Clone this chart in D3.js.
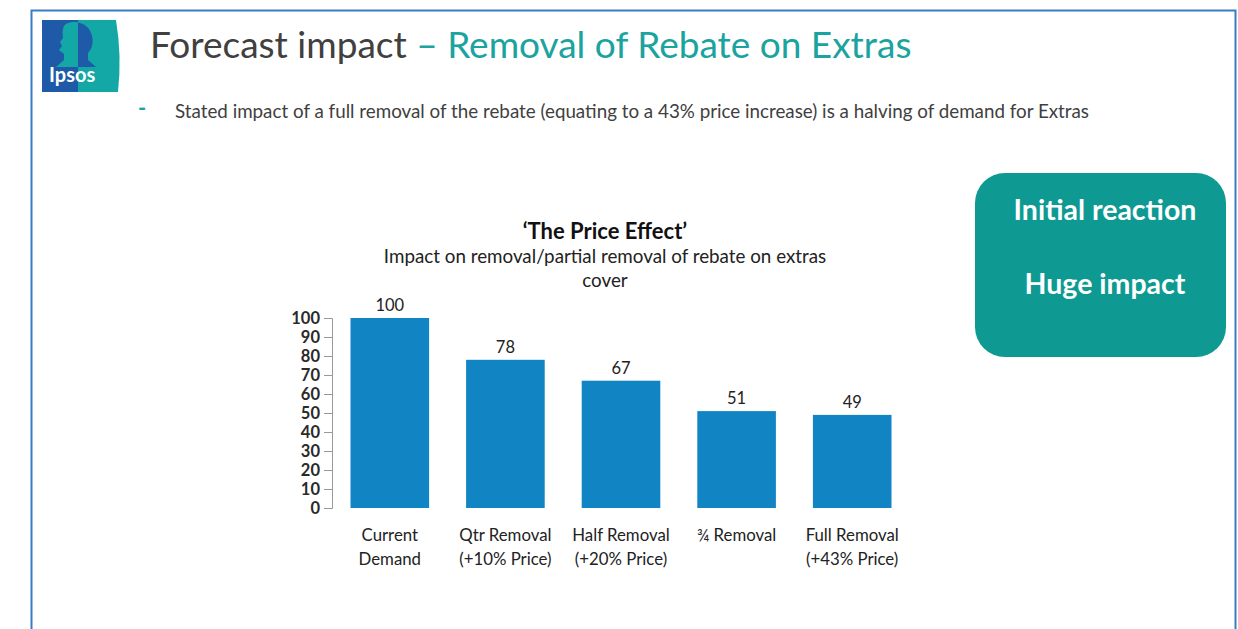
<!DOCTYPE html>
<html>
<head>
<meta charset="utf-8">
<script src="https://cdn.jsdelivr.net/npm/d3@7"></script>
<style>
  body { margin: 0; background: #fff; }
  svg { display: block; font-family: Lato, 'Open Sans', sans-serif; }
</style>
</head>
<body>
<div id="chart"></div>
<script>
const categories = [
  ['Current', 'Demand'],
  ['Qtr Removal', '(+10% Price)'],
  ['Half Removal', '(+20% Price)'],
  ['\u00BE Removal'],
  ['Full Removal', '(+43% Price)']
];
const values = [100, 78, 67, 51, 49];
const yTicks = [0, 10, 20, 30, 40, 50, 60, 70, 80, 90, 100];

const W = 1238, H = 629;
const teal = '#1aa39f';
const barColor = '#1185c4';

const svg = d3.select('#chart')
  .append('svg')
  .attr('width', W)
  .attr('height', H);

// slide frame
svg.append('path')
  .attr('d', 'M31.5,' + H + ' V10.5 H1235.5 V' + H)
  .attr('fill', 'none')
  .attr('stroke', '#3a7cc4')
  .attr('stroke-width', 2);

// logo
const logo = svg.append('g').attr('transform', 'translate(42,20)');
const defs = svg.append('defs');
defs.append('clipPath').attr('id', 'logo-left')
  .append('rect').attr('x', 0).attr('y', 0).attr('width', 36).attr('height', 72);
defs.append('clipPath').attr('id', 'logo-right')
  .append('rect').attr('x', 36).attr('y', 0).attr('width', 50).attr('height', 72);

logo.append('path')
  .attr('d', 'M0,0 H74 Q80,36 76,72 H0 Z')
  .attr('fill', '#13a8a6');
logo.append('rect').attr('width', 36).attr('height', 72).attr('fill', '#1e5aa8');
const headPath = 'M24,4 C34,-1 48,4 50,16 C52,24 49,30 46,33 L46,40 L54,47 L14,47 L22,40 L22,34 L17,30 L20,26 L18,22 L21,18 C20,10 21,6 24,4 Z';
logo.append('path').attr('d', headPath).attr('fill', '#13a8a6').attr('clip-path', 'url(#logo-left)');
logo.append('path').attr('d', headPath).attr('fill', '#1e5aa8').attr('clip-path', 'url(#logo-right)');
logo.append('text')
  .attr('x', 7).attr('y', 62)
  .attr('fill', '#fff')
  .attr('font-size', 20)
  .attr('font-weight', 'bold')
  .text('Ipsos');

// slide title
const title = svg.append('text')
  .attr('x', 150).attr('y', 58)
  .attr('font-size', 37);
title.append('tspan').attr('fill', '#404040').text('Forecast impact ');
title.append('tspan').attr('fill', teal).text('\u2013 Removal of Rebate on Extras');

svg.append('text')
  .attr('x', 138).attr('y', 116)
  .attr('fill', teal)
  .attr('font-size', 22)
  .attr('font-weight', 'bold')
  .text('-');

svg.append('text')
  .attr('x', 175).attr('y', 118)
  .attr('fill', '#404040')
  .attr('font-size', 18.8)
  .text('Stated impact of a full removal of the rebate (equating to a 43% price increase) is a halving of demand for Extras');

// callout box
svg.append('rect')
  .attr('x', 975).attr('y', 173)
  .attr('width', 251).attr('height', 184)
  .attr('rx', 30)
  .attr('fill', '#0e9a93');
svg.append('text')
  .attr('x', 1105).attr('y', 220)
  .attr('text-anchor', 'middle')
  .attr('fill', '#fff')
  .attr('font-size', 28.5)
  .attr('font-weight', 'bold')
  .text('Initial reaction');
svg.append('text')
  .attr('x', 1105).attr('y', 294)
  .attr('text-anchor', 'middle')
  .attr('fill', '#fff')
  .attr('font-size', 28.5)
  .attr('font-weight', 'bold')
  .text('Huge impact');

// chart titles
svg.append('text')
  .attr('x', 605).attr('y', 239)
  .attr('text-anchor', 'middle')
  .attr('fill', '#111')
  .attr('font-size', 22)
  .attr('font-weight', 'bold')
  .text('\u2018The Price Effect\u2019');
svg.append('text')
  .attr('x', 605).attr('y', 263)
  .attr('text-anchor', 'middle')
  .attr('fill', '#222')
  .attr('font-size', 18.8)
  .text('Impact on removal/partial removal of rebate on extras');
svg.append('text')
  .attr('x', 605).attr('y', 287)
  .attr('text-anchor', 'middle')
  .attr('fill', '#222')
  .attr('font-size', 18.8)
  .text('cover');

// chart
const x = d3.scaleBand()
  .domain(d3.range(values.length))
  .range([332, 910])
  .paddingInner(0.32)
  .paddingOuter(0.16);
const y = d3.scaleLinear().domain([0, 100]).range([508, 318]);

const yAxis = svg.append('g')
  .attr('transform', 'translate(332,0)')
  .call(d3.axisLeft(y).tickValues(yTicks).tickSize(8).tickPadding(4));
yAxis.selectAll('path, line').attr('stroke', '#999');
yAxis.selectAll('text')
  .attr('font-size', 16.5)
  .attr('font-weight', 'bold')
  .attr('font-family', 'Lato, sans-serif')
  .attr('fill', '#2a2a2a');

svg.selectAll('rect.bar')
  .data(values)
  .enter()
  .append('rect')
  .classed('bar', true)
  .attr('x', (d, i) => x(i))
  .attr('width', x.bandwidth())
  .attr('y', d => y(d))
  .attr('height', d => y(0) - y(d))
  .attr('fill', barColor);

svg.selectAll('text.bar-value')
  .data(values)
  .enter()
  .append('text')
  .classed('bar-value', true)
  .attr('x', (d, i) => x(i) + x.bandwidth() / 2)
  .attr('y', d => y(d) - 7)
  .attr('text-anchor', 'middle')
  .attr('fill', '#222')
  .attr('font-size', 16.5)
  .text(d => d);

const labels = svg.selectAll('text.cat')
  .data(categories)
  .enter()
  .append('text')
  .classed('cat', true)
  .attr('text-anchor', 'middle')
  .attr('fill', '#222')
  .attr('font-size', 16.8);
labels.selectAll('tspan')
  .data((d, i) => d.map(line => ({ line, i })))
  .enter()
  .append('tspan')
  .attr('x', d => x(d.i) + x.bandwidth() / 2)
  .attr('y', (d, j) => 541 + j * 24)
  .text(d => d.line);
</script>
</body>
</html>
